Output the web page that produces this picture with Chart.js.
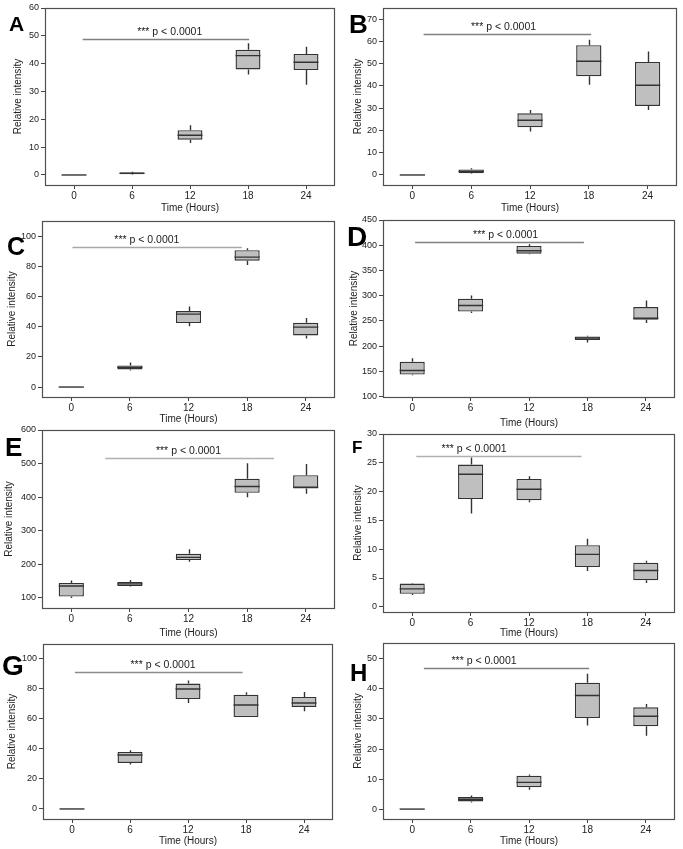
<!DOCTYPE html>
<html>
<head>
<meta charset="utf-8">
<script src="https://cdn.jsdelivr.net/npm/chart.js@4.4.1/dist/chart.umd.min.js"></script>
<style>
    body { margin: 0; background: #fff; }
    #wrap { position: relative; width: 683px; height: 849px; overflow: hidden; }
    canvas { position: absolute; }
</style>
</head>
<body>
<div id="wrap"></div>
<script>
const hours = ['0', '6', '12', '18', '24'];

// one row per time point: [min, q1, median, q3, max]
const boxA = [[0, 0, 0, 0, 0], [0.1, 0.3, 0.6, 0.9, 1.2], [11.5, 12.7, 14.3, 16.1, 17.9], [36.1, 37.9, 42.9, 45, 47.3], [32.4, 37.7, 40.5, 43.5, 46.1]];
const boxB = [[0, 0, 0, 0, 0], [0.6, 0.75, 1.6, 2.5, 3], [19.5, 21.4, 24.6, 27.7, 29.2], [40.5, 44.4, 51.1, 58.3, 60.7], [29.2, 31, 40.3, 50.8, 55.5]];
const boxC = [[0, 0, 0, 0, 0], [11, 11.7, 13, 14.3, 16.3], [40.2, 42.4, 48.3, 50.3, 53.4], [80.8, 83.7, 86.1, 90.7, 92], [32.2, 34.2, 39.7, 42.6, 45.7]];
const boxD = [[142.7, 144, 152, 169.2, 176], [266, 268.6, 280.8, 294, 300.7], [382, 383.4, 389, 398.7, 402], [207.6, 212.2, 216.3, 219.5, 221], [246, 252.7, 255.3, 277.5, 290.7]];
const boxE = [[100, 104, 135.7, 144.6, 151.6], [133.7, 135.7, 141.7, 147.6, 153.6], [207.9, 212.8, 220.8, 231.7, 244.6], [400, 412.9, 431.7, 454.6, 501], [410, 425.8, 429.8, 465.5, 499]];
const boxF = [[2.07, 2.25, 3.11, 4.03, 4.15], [16.2, 18.7, 23, 24.7, 25.9], [18.15, 18.5, 20.4, 22.2, 22.65], [6.2, 6.9, 9.1, 10.7, 11.8], [4.15, 4.6, 6.3, 7.67, 8]];
const boxG = [[0, 0, 0, 0, 0], [29.6, 30.7, 36, 38, 39.1], [70.7, 73.3, 80, 83.6, 85.6], [61.3, 61.3, 69.3, 76.2, 77.8], [65.1, 68, 70.7, 74.7, 78]];
const boxH = [[0, 0, 0, 0, 0], [2.2, 2.55, 3.3, 4, 4.5], [6.4, 7.3, 8.9, 11.1, 11.5], [27.8, 30.3, 37.8, 42.1, 45.1], [24.4, 27.6, 30.9, 33.9, 35]];

const ticksA = [0, 10, 20, 30, 40, 50, 60];
const ticksB = [0, 10, 20, 30, 40, 50, 60, 70];
const ticksC = [0, 20, 40, 60, 80, 100];
const ticksD = [100, 150, 200, 250, 300, 350, 400, 450];
const ticksE = [100, 200, 300, 400, 500, 600];
const ticksF = [0, 5, 10, 15, 20, 25, 30];
const ticksG = [0, 20, 40, 60, 80, 100];
const ticksH = [0, 10, 20, 30, 40, 50];

const rangeA = [-3.6, 60];
const rangeB = [-4.5, 75];
const rangeC = [-6.6, 110];
const rangeD = [99.5, 450];
const rangeE = [70, 600];
const rangeF = [-0.9, 30];
const rangeG = [-6.7, 110];
const rangeH = [-3.3, 55.3];

// significance bar: [from index, to index, y value, text centre index]
const sigA = [0.15, 3.02, 49, 1.65];
const sigB = [0.19, 3.04, 63.2, 1.55];
const sigC = [0.02, 2.91, 92.7, 1.29];
const sigD = [0.05, 2.94, 406, 1.6];
const sigE = [0.58, 3.46, 517, 2.0];
const sigF = [0.07, 2.9, 26.2, 1.06];
const sigG = [0.05, 2.94, 91.3, 1.57];
const sigH = [0.2, 3.03, 47, 1.23];

const FONT = "'Liberation Sans', Arial, sans-serif";
const INK = '#222';
const LINE = '#333';

// layout: canvas box [x, y, w, h], frame [l, t, r, b], title positions, letter
const panels = [
    { letter: 'A', rows: boxA, ticks: ticksA, range: rangeA, sig: sigA, sigColor: '#808080', canvas: [0, 0, 342, 220], frame: [45, 8, 335, 185], yTitleX: 18, xTitleY: 208, letterAt: [9, 31], letterSize: 21 },
    { letter: 'B', rows: boxB, ticks: ticksB, range: rangeB, sig: sigB, sigColor: '#808080', canvas: [340, 0, 343, 220], frame: [383, 8, 677, 185], yTitleX: 358, xTitleY: 208, letterAt: [349, 33], letterSize: 26 },
    { letter: 'C', rows: boxC, ticks: ticksC, range: rangeC, sig: sigC, sigColor: '#a8a8a8', canvas: [0, 212, 342, 220], frame: [42, 221, 335, 397], yTitleX: 12.5, xTitleY: 419, letterAt: [7, 255], letterSize: 25 },
    { letter: 'D', rows: boxD, ticks: ticksD, range: rangeD, sig: sigD, sigColor: '#808080', canvas: [340, 212, 343, 220], frame: [383, 220, 675, 397], yTitleX: 354, xTitleY: 423, letterAt: [347, 246], letterSize: 28 },
    { letter: 'E', rows: boxE, ticks: ticksE, range: rangeE, sig: sigE, sigColor: '#b0b0b0', canvas: [0, 422, 342, 220], frame: [42, 430, 335, 608], yTitleX: 9.5, xTitleY: 633, letterAt: [5, 456], letterSize: 26 },
    { letter: 'F', rows: boxF, ticks: ticksF, range: rangeF, sig: sigF, sigColor: '#b0b0b0', canvas: [340, 422, 343, 220], frame: [383, 434, 675, 612], yTitleX: 358, xTitleY: 633, letterAt: [352, 453], letterSize: 17 },
    { letter: 'G', rows: boxG, ticks: ticksG, range: rangeG, sig: sigG, sigColor: '#8c8c8c', canvas: [0, 632, 342, 217], frame: [43, 644, 333, 819], yTitleX: 12, xTitleY: 841, letterAt: [2, 675], letterSize: 28 },
    { letter: 'H', rows: boxH, ticks: ticksH, range: rangeH, sig: sigH, sigColor: '#808080', canvas: [340, 632, 343, 217], frame: [383, 643, 675, 819], yTitleX: 358, xTitleY: 841, letterAt: [350, 681], letterSize: 24 }
];

function makeExtras(p) {
    return {
        id: 'boxExtras' + p.letter,
        afterDatasetsDraw(chart) {
            const ctx = chart.ctx;
            const x = chart.scales.x;
            const y = chart.scales.y;
            const meta = chart.getDatasetMeta(0);
            ctx.save();

            // whiskers and medians
            ctx.strokeStyle = LINE;
            ctx.lineWidth = 1.4;
            meta.data.forEach((bar, i) => {
                const [lo, q1, med, q3, hi] = p.rows[i];
                const cx = Math.round(bar.x) + 0.5;
                const half = bar.width / 2;
                ctx.beginPath();
                ctx.moveTo(cx, y.getPixelForValue(q3));
                ctx.lineTo(cx, y.getPixelForValue(hi));
                ctx.moveTo(cx, y.getPixelForValue(q1));
                ctx.lineTo(cx, y.getPixelForValue(lo));
                const my = y.getPixelForValue(med);
                ctx.moveTo(bar.x - half, my);
                ctx.lineTo(bar.x + half, my);
                ctx.stroke();
            });

            // significance bar
            const [from, to, sy, tx] = p.sig;
            const ly = Math.round(y.getPixelForValue(sy)) + 0.5;
            ctx.strokeStyle = p.sigColor;
            ctx.lineWidth = 1.3;
            ctx.beginPath();
            ctx.moveTo(x.getPixelForValue(from), ly);
            ctx.lineTo(x.getPixelForValue(to), ly);
            ctx.stroke();
            ctx.fillStyle = INK;
            ctx.font = '10.5px ' + FONT;
            ctx.textAlign = 'center';
            ctx.textBaseline = 'bottom';
            ctx.fillText('*** p < 0.0001', x.getPixelForValue(tx), ly - 2);

            // plot frame
            const a = chart.chartArea;
            ctx.strokeStyle = '#505050';
            ctx.lineWidth = 1.2;
            ctx.strokeRect(a.left + 0.5, a.top + 0.5, a.right - a.left - 1, a.bottom - a.top);

            // panel letter
            ctx.fillStyle = '#000';
            ctx.font = 'bold ' + p.letterSize + 'px ' + FONT;
            ctx.textAlign = 'left';
            ctx.textBaseline = 'alphabetic';
            ctx.fillText(p.letter, p.letterAt[0] - p.canvas[0], p.letterAt[1] - p.canvas[1]);
            ctx.restore();
        }
    };
}

const wrap = document.getElementById('wrap');
const titleSize = 10;
const titleLine = titleSize * 1.2;

panels.forEach(p => {
    const [cx, cy, cw, ch] = p.canvas;
    const [fl, ft, fr, fb] = p.frame;
    const canvas = document.createElement('canvas');
    canvas.width = cw;
    canvas.height = ch;
    canvas.style.left = cx + 'px';
    canvas.style.top = cy + 'px';
    canvas.style.width = cw + 'px';
    canvas.style.height = ch + 'px';
    wrap.appendChild(canvas);

    new Chart(canvas.getContext('2d'), {
        type: 'bar',
        data: {
            labels: hours,
            datasets: [{
                data: p.rows.map(r => [r[1], r[3]]),
                backgroundColor: '#bfbfbf',
                borderColor: LINE,
                borderWidth: 1.4,
                borderSkipped: false,
                barPercentage: 0.43,
                categoryPercentage: 1
            }]
        },
        options: {
            responsive: false,
            animation: false,
            devicePixelRatio: 1,
            layout: {
                padding: { left: 0, top: ft - cy, right: cx + cw - fr, bottom: 0 }
            },
            plugins: {
                legend: { display: false },
                tooltip: { enabled: false }
            },
            scales: {
                x: {
                    type: 'category',
                    offset: true,
                    grid: { offset: false, drawOnChartArea: false, drawTicks: true, tickLength: 4, color: '#444' },
                    border: { display: false },
                    ticks: { color: INK, padding: 1, maxRotation: 0, font: { family: FONT, size: 10 } },
                    title: {
                        display: true,
                        text: 'Time (Hours)',
                        color: INK,
                        font: { family: FONT, size: titleSize },
                        padding: { top: 0, bottom: (cy + ch) - p.xTitleY - titleLine / 2 }
                    },
                    afterFit: s => { s.height = (cy + ch) - fb; }
                },
                y: {
                    type: 'linear',
                    min: p.range[0],
                    max: p.range[1],
                    grid: { drawOnChartArea: false, drawTicks: true, tickLength: 4, color: '#444' },
                    border: { display: false },
                    ticks: { color: INK, padding: 2, font: { family: FONT, size: 9 } },
                    afterBuildTicks: s => { s.ticks = p.ticks.map(v => ({ value: v })); },
                    title: {
                        display: true,
                        text: 'Relative intensity',
                        color: INK,
                        font: { family: FONT, size: titleSize },
                        padding: { top: p.yTitleX - cx - titleLine / 2, bottom: 0 }
                    },
                    afterFit: s => { s.width = fl - cx; }
                }
            }
        },
        plugins: [makeExtras(p)]
    });
});
</script>
</body>
</html>
